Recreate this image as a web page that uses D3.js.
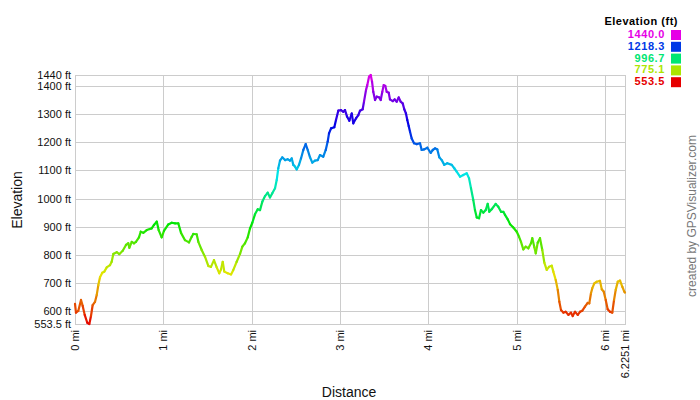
<!DOCTYPE html>
<meta charset="utf-8">
<style>
html, body { margin: 0; padding: 0; background: #fff; }
svg { display: block; font-family: "Liberation Sans", Arial, sans-serif; }
</style>
<body>
<script src="https://d3js.org/d3.v7.min.js"></script>
<script>

// distance along track (mi)
var dist = [0, 0.011, 0.037, 0.068, 0.087, 0.110, 0.139, 0.162, 0.181, 0.200, 0.226, 0.246, 0.264, 0.283, 0.309, 0.332, 0.359, 0.396, 0.415, 0.434,
  0.472, 0.501, 0.540, 0.577, 0.603, 0.615, 0.642, 0.668, 0.690, 0.724, 0.744, 0.773, 0.812, 0.868, 0.894, 0.925, 0.947, 0.981, 1.007, 1.056,
  1.095, 1.132, 1.169, 1.200, 1.245, 1.290, 1.321, 1.339, 1.377, 1.396, 1.434, 1.471, 1.509, 1.539, 1.573, 1.604, 1.633, 1.653, 1.672, 1.690,
  1.728, 1.766, 1.792, 1.830, 1.868, 1.894, 1.924, 1.955, 1.981, 2.007, 2.037, 2.068, 2.094, 2.120, 2.151, 2.181, 2.207, 2.233, 2.264, 2.283,
  2.301, 2.320, 2.346, 2.377, 2.407, 2.433, 2.453, 2.471, 2.490, 2.509, 2.535, 2.558, 2.584, 2.611, 2.634, 2.660, 2.686, 2.716, 2.747, 2.773,
  2.810, 2.838, 2.860, 2.875, 2.898, 2.935, 2.954, 2.980, 3.011, 3.037, 3.056, 3.079, 3.105, 3.132, 3.150, 3.181, 3.207, 3.226, 3.256, 3.271,
  3.294, 3.308, 3.328, 3.347, 3.362, 3.376, 3.396, 3.415, 3.444, 3.460, 3.478, 3.494, 3.512, 3.528, 3.551, 3.565, 3.596, 3.619, 3.641, 3.664,
  3.686, 3.709, 3.727, 3.746, 3.761, 3.777, 3.792, 3.811, 3.837, 3.868, 3.905, 3.924, 3.950, 3.988, 4.026, 4.049, 4.075, 4.101, 4.123, 4.151,
  4.180, 4.214, 4.264, 4.293, 4.320, 4.358, 4.395, 4.434, 4.460, 4.482, 4.508, 4.527, 4.547, 4.573, 4.595, 4.621, 4.649, 4.671, 4.689, 4.716,
  4.762, 4.791, 4.822, 4.848, 4.867, 4.898, 4.924, 4.961, 5.000, 5.026, 5.048, 5.074, 5.101, 5.131, 5.161, 5.176, 5.199, 5.215, 5.237, 5.263,
  5.289, 5.312, 5.339, 5.365, 5.396, 5.414, 5.441, 5.464, 5.482, 5.501, 5.527, 5.554, 5.584, 5.614, 5.633, 5.659, 5.690, 5.716, 5.742, 5.772,
  5.803, 5.821, 5.840, 5.855, 5.878, 5.905, 5.942, 5.962, 5.984, 6.007, 6.029, 6.055, 6.081, 6.101, 6.120, 6.143, 6.169, 6.195, 6.217, 6.2251];

// elevation (ft)
var elev = [625, 594, 600, 639, 618, 586, 558, 553.5, 582, 621, 632, 657, 692, 720, 736, 740, 755, 763, 775, 803,
  809, 802, 814, 835, 841, 825, 846, 841, 846, 862, 882, 878, 888, 894, 906, 918, 888, 862, 885, 908,
  914, 912, 912, 878, 852, 844, 864, 874, 873, 846, 817, 793, 760, 757, 781, 755, 734, 748, 775, 740,
  734, 730, 746, 775, 803, 829, 841, 862, 894, 914, 944, 962, 959, 989, 1009, 1021, 1004, 1019, 1037, 1066,
  1108, 1135, 1147, 1137, 1140, 1135, 1143, 1120, 1114, 1104, 1120, 1143, 1173, 1194, 1173, 1147, 1128, 1135, 1137, 1155,
  1149, 1173, 1203, 1232, 1250, 1254, 1280, 1313, 1315, 1309, 1315, 1292, 1277, 1303, 1268, 1286, 1297, 1313, 1318, 1345,
  1387, 1404, 1434, 1440, 1416, 1380, 1351, 1363, 1360, 1351, 1380, 1404, 1401, 1380, 1377, 1353, 1347, 1353, 1345, 1360,
  1345, 1339, 1318, 1303, 1280, 1258, 1238, 1214, 1197, 1194, 1197, 1173, 1175, 1181, 1163, 1173, 1179, 1175, 1147, 1137,
  1120, 1126, 1120, 1108, 1096, 1078, 1084, 1090, 1072, 1037, 995, 959, 933, 930, 959, 950, 959, 981, 953, 962,
  981, 971, 953, 953, 942, 926, 909, 897, 882, 864, 846, 819, 829, 823, 841, 859, 827, 805, 843, 859,
  817, 772, 746, 757, 761, 740, 710, 675, 633, 603, 594, 597, 586, 594, 582, 597, 586, 597, 601, 615,
  629, 627, 663, 681, 698, 704, 707, 677, 669, 639, 606, 597, 594, 639, 675, 704, 708, 686, 669, 665];

var yTicks = [553.5, 600, 700, 800, 900, 1000, 1100, 1200, 1300, 1400, 1440];
var yLabels = ["553.5 ft", "600 ft", "700 ft", "800 ft", "900 ft", "1000 ft", "1100 ft", "1200 ft", "1300 ft", "1400 ft", "1440 ft"];
var xTicks = [0, 1, 2, 3, 4, 5, 6, 6.2251];
var xLabels = ["0 mi", "1 mi", "2 mi", "3 mi", "4 mi", "5 mi", "6 mi", "6.2251 mi"];
var legendVals = [1440.0, 1218.3, 996.7, 775.1, 553.5];

var width = 700,
    height = 400;
var minE = 553.5, maxE = 1440;

var svg = d3.select("body").append("svg")
    .attr("width", width)
    .attr("height", height);

var x = d3.scaleLinear().domain([0, 6.2251]).range([75, 625]);
var y = d3.scaleLinear().domain([minE, maxE]).range([324, 75]);

// red (low) -> magenta (high)
var color = function(e) {
  var t = (e - minE) / (maxE - minE);
  return d3.hsl(300 * t, 1, 0.45).toString();
};

// grid
svg.append("g").selectAll("line")
  .data(yTicks).enter().append("line")
  .attr("x1", x(0)).attr("x2", x(6.2251))
  .attr("y1", function(d){ return Math.round(y(d)) + 0.5; })
  .attr("y2", function(d){ return Math.round(y(d)) + 0.5; })
  .attr("stroke", "#cccccc");

svg.append("g").selectAll("line")
  .data(xTicks).enter().append("line")
  .attr("y1", y(minE) + 1).attr("y2", y(maxE))
  .attr("x1", function(d){ return Math.round(x(d)) + 0.5; })
  .attr("x2", function(d){ return Math.round(x(d)) + 0.5; })
  .attr("stroke", "#cccccc");

// y labels
svg.append("g").selectAll("text")
  .data(yTicks).enter().append("text")
  .attr("x", 71)
  .attr("y", function(d){ return y(d) + 4; })
  .attr("text-anchor", "end")
  .attr("font-size", 11)
  .attr("fill", "#111")
  .text(function(d, i){ return yLabels[i]; });

// x labels, rotated
svg.append("g").selectAll("text")
  .data(xTicks).enter().append("text")
  .attr("transform", function(d){ return "translate(" + (x(d) + 4) + ",330) rotate(-90)"; })
  .attr("text-anchor", "end")
  .attr("font-size", 11)
  .attr("fill", "#111")
  .text(function(d, i){ return xLabels[i]; });

svg.append("text")
  .attr("x", 349).attr("y", 397)
  .attr("text-anchor", "middle")
  .attr("font-size", 14)
  .attr("fill", "#111")
  .text("Distance");

svg.append("text")
  .attr("transform", "translate(22,200) rotate(-90)")
  .attr("text-anchor", "middle")
  .attr("font-size", 14)
  .attr("fill", "#111")
  .text("Elevation");

// profile, one segment per step so colour follows elevation
var segs = d3.range(dist.length - 1);
svg.append("g").selectAll("line")
  .data(segs).enter().append("line")
  .attr("x1", function(i){ return x(dist[i]); })
  .attr("y1", function(i){ return y(elev[i]); })
  .attr("x2", function(i){ return x(dist[i + 1]); })
  .attr("y2", function(i){ return y(elev[i + 1]); })
  .attr("stroke", function(i){ return color((elev[i] + elev[i + 1]) / 2); })
  .attr("stroke-width", 2.2)
  .attr("stroke-linecap", "round");

// legend
svg.append("text")
  .attr("x", 678).attr("y", 25)
  .attr("text-anchor", "end")
  .attr("font-size", 11)
  .attr("font-weight", "bold")
  .attr("letter-spacing", 0.5)
  .attr("fill", "#000")
  .text("Elevation (ft)");

var leg = svg.append("g").selectAll("g")
  .data(legendVals).enter().append("g")
  .attr("transform", function(d, i){ return "translate(0," + (38 + i * 11.8) + ")"; });

leg.append("text")
  .attr("x", 665)
  .attr("text-anchor", "end")
  .attr("font-size", 11)
  .attr("font-weight", "bold")
  .attr("letter-spacing", 0.6)
  .attr("fill", function(d){ return color(d); })
  .text(function(d){ return d.toFixed(1); });

leg.append("rect")
  .attr("x", 671).attr("y", -8)
  .attr("width", 10).attr("height", 10)
  .attr("fill", function(d){ return color(d); });

svg.append("text")
  .attr("transform", "translate(696,216) rotate(-90)")
  .attr("text-anchor", "middle")
  .attr("font-size", 12)
  .attr("fill", "#777")
  .text("created by GPSVisualizer.com");

</script>
</body>
